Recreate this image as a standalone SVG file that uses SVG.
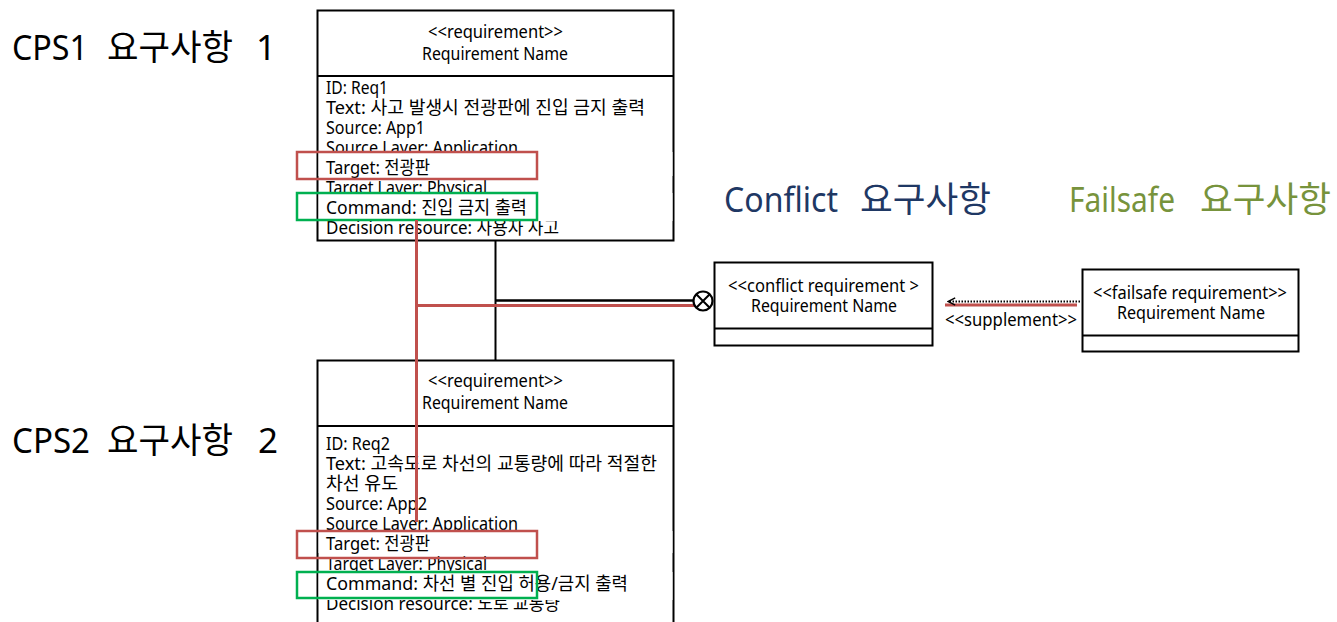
<svg xmlns="http://www.w3.org/2000/svg" width="1337" height="622" viewBox="0 0 1337 622">
<style>
text{font-family:"Noto Sans","Noto Sans CJK KR",sans-serif;fill:#000}
.t{font-size:18px}
.c{text-anchor:middle}
.big{font-size:35px}
.box{fill:#fff;stroke:#000;stroke-width:2}
.div{stroke:#000;stroke-width:2}
.bg{fill:#fff}
.red{fill:none;stroke:#c0504d;stroke-width:2.5}
.grn{fill:none;stroke:#00b050;stroke-width:2.5}
.redl{stroke:#c0504d;stroke-width:3;fill:none}
.blk{stroke:#000;stroke-width:2;fill:none}
.navy{fill:#1f3864}
.olive{fill:#77933c}
</style>
<defs>
<marker id="open" viewBox="0 0 10 10" refX="9" refY="5" markerWidth="9" markerHeight="9" orient="auto" markerUnits="userSpaceOnUse">
<path d="M1,1 L9,5 L1,9" fill="none" stroke="#000" stroke-width="1.6"/>
</marker>
</defs>

<g id="labels">
<text class="big" x="12" y="60" textLength="76" lengthAdjust="spacingAndGlyphs">CPS1</text>
<text class="big" x="107" y="60" textLength="126" lengthAdjust="spacingAndGlyphs">요구사항</text>
<text class="big" x="256" y="60">1</text>
<text class="big" x="12" y="453" textLength="78" lengthAdjust="spacingAndGlyphs">CPS2</text>
<text class="big" x="107" y="453" textLength="126" lengthAdjust="spacingAndGlyphs">요구사항</text>
<text class="big" x="258" y="453">2</text>
<text class="big navy" x="724" y="212" textLength="114" lengthAdjust="spacingAndGlyphs">Conflict</text>
<text class="big navy" x="860" y="212" textLength="131" lengthAdjust="spacingAndGlyphs">요구사항</text>
<text class="big olive" x="1069" y="212" textLength="106" lengthAdjust="spacingAndGlyphs">Failsafe</text>
<text class="big olive" x="1200" y="212" textLength="131" lengthAdjust="spacingAndGlyphs">요구사항</text>
</g>

<g id="req1">
<rect class="box" x="317.5" y="10.5" width="356" height="230"/>
<line class="div" x1="317.5" y1="76" x2="673.5" y2="76"/>
<text class="t" x="428" y="38" textLength="135" lengthAdjust="spacingAndGlyphs">&lt;&lt;requirement&gt;&gt;</text>
<text class="t" x="422" y="60" textLength="146" lengthAdjust="spacingAndGlyphs">Requirement Name</text>
<text class="t" x="326" y="94" textLength="62" lengthAdjust="spacingAndGlyphs">ID: Req1</text>
<text class="t" x="326" y="114" textLength="319" lengthAdjust="spacingAndGlyphs">Text: 사고 발생시 전광판에 진입 금지 출력</text>
<text class="t" x="326" y="134" textLength="99" lengthAdjust="spacingAndGlyphs">Source: App1</text>
<text class="t" x="326" y="154" textLength="192" lengthAdjust="spacingAndGlyphs">Source Layer: Application</text>
<rect class="bg" x="318.5" y="152" width="354" height="24"/>
<text class="t" x="326" y="174" textLength="104" lengthAdjust="spacingAndGlyphs">Target: 전광판</text>
<text class="t" x="326" y="194" textLength="161" lengthAdjust="spacingAndGlyphs">Target Layer: Physical</text>
<text class="t" x="326" y="234" textLength="233" lengthAdjust="spacingAndGlyphs">Decision resource: 사용자 사고</text>
<rect class="bg" x="318.5" y="193" width="354" height="28"/>
<text class="t" x="326" y="214" textLength="201" lengthAdjust="spacingAndGlyphs">Command: 진입 금지 출력</text>
</g>

<g id="req2">
<rect class="box" x="317.5" y="360.5" width="356" height="280"/>
<line class="div" x1="317.5" y1="426" x2="673.5" y2="426"/>
<text class="t" x="428" y="387" textLength="135" lengthAdjust="spacingAndGlyphs">&lt;&lt;requirement&gt;&gt;</text>
<text class="t" x="422" y="409" textLength="146" lengthAdjust="spacingAndGlyphs">Requirement Name</text>
<text class="t" x="326" y="450" textLength="64" lengthAdjust="spacingAndGlyphs">ID: Req2</text>
<text class="t" x="326" y="470" textLength="331" lengthAdjust="spacingAndGlyphs">Text: 고속도로 차선의 교통량에 따라 적절한</text>
<text class="t" x="326" y="490" textLength="72" lengthAdjust="spacingAndGlyphs">차선 유도</text>
<text class="t" x="326" y="510" textLength="101" lengthAdjust="spacingAndGlyphs">Source: App2</text>
<text class="t" x="326" y="530" textLength="192" lengthAdjust="spacingAndGlyphs">Source Layer: Application</text>
<rect class="bg" x="318.5" y="531" width="354" height="22"/>
<text class="t" x="326" y="550" textLength="104" lengthAdjust="spacingAndGlyphs">Target: 전광판</text>
<text class="t" x="326" y="570" textLength="161" lengthAdjust="spacingAndGlyphs">Target Layer: Physical</text>
<text class="t" x="326" y="610" textLength="234" lengthAdjust="spacingAndGlyphs">Decision resource: 노로 교통량</text>
<rect class="bg" x="318.5" y="572" width="354" height="28"/>
<text class="t" x="326" y="590" textLength="302" lengthAdjust="spacingAndGlyphs">Command: 차선 별 진입 허용/금지 출력</text>
</g>

<g id="conflict">
<rect class="box" x="714.5" y="262.5" width="218" height="83"/>
<line class="div" x1="714.5" y1="328.5" x2="932.5" y2="328.5"/>
<text class="t" x="728" y="292" textLength="191" lengthAdjust="spacingAndGlyphs">&lt;&lt;conflict requirement &gt;</text>
<text class="t" x="751" y="312" textLength="146" lengthAdjust="spacingAndGlyphs">Requirement Name</text>
</g>

<g id="failsafe">
<rect class="box" x="1082.5" y="269.5" width="216" height="82"/>
<line class="div" x1="1082.5" y1="335.5" x2="1298.5" y2="335.5"/>
<text class="t" x="1093" y="299" textLength="194" lengthAdjust="spacingAndGlyphs">&lt;&lt;failsafe requirement&gt;&gt;</text>
<text class="t" x="1117" y="319" textLength="148" lengthAdjust="spacingAndGlyphs">Requirement Name</text>
</g>

<g id="highlights">
<rect class="red" x="297" y="152" width="240" height="27"/>
<rect class="grn" x="297" y="193" width="240" height="27"/>
<rect class="red" x="297" y="531" width="240" height="27"/>
<rect class="grn" x="297" y="572" width="240" height="26"/>
</g>

<g id="connectors">
<line class="blk" x1="495.5" y1="240" x2="495.5" y2="360"/>
<line class="blk" x1="495.5" y1="300.5" x2="694" y2="300.5" style="stroke-width:2.5"/>
<line class="redl" x1="416.5" y1="220" x2="416.5" y2="522"/>
<line class="redl" x1="416.5" y1="305.5" x2="704" y2="305.5"/>
<circle cx="703" cy="301" r="9.5" fill="#fff" stroke="#000" stroke-width="2.2"/>
<path d="M696.3,294.3 L709.7,307.7 M709.7,294.3 L696.3,307.7" stroke="#000" stroke-width="2"/>
<line class="redl" x1="945" y1="305" x2="1077" y2="305"/>
<line x1="1080" y1="301.5" x2="948" y2="301.5" stroke="#000" stroke-width="2" stroke-dasharray="1.5 1.5" marker-end="url(#open)"/>
<text class="t" x="945" y="326" textLength="132" lengthAdjust="spacingAndGlyphs">&lt;&lt;supplement&gt;&gt;</text>
</g>
</svg>
